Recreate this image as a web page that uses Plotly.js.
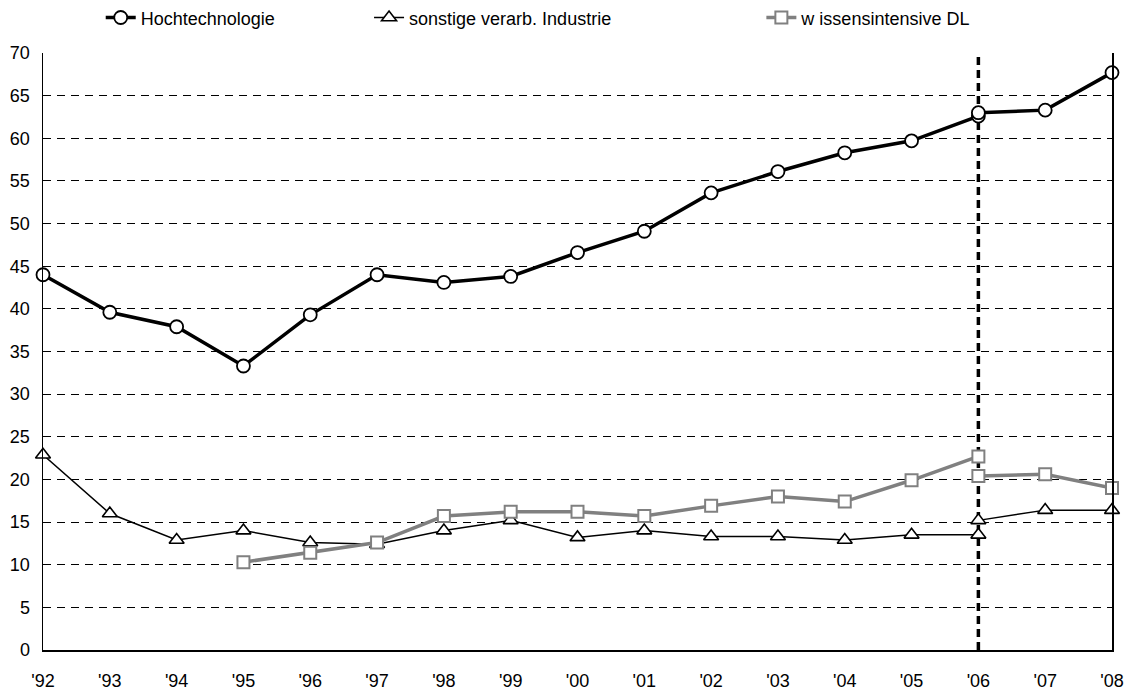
<!DOCTYPE html>
<html>
<head>
<meta charset="utf-8">
<script src="https://cdn.plot.ly/plotly-3.0.1.min.js"></script>
<style>html,body{margin:0;padding:0;background:#fff;}#chart{width:1133px;height:693px;}</style>
</head>
<body>
<div id="chart"></div>
<script>
// Years (x positions) and tick labels
const years = [1992,1993,1994,1995,1996,1997,1998,1999,2000,2001,2002,2003,2004,2005,2006,2007,2008];
const tickLabels = ["'92","'93","'94","'95","'96","'97","'98","'99","'00","'01","'02","'03","'04","'05","'06","'07","'08"];

// Series names
const nameHT = "Hochtechnologie";
const nameSV = "sonstige verarb. Industrie";
const nameWD = "w issensintensive DL";

// Old definition ('92 - '06)
const yearsOld = [1992,1993,1994,1995,1996,1997,1998,1999,2000,2001,2002,2003,2004,2005,2006];
const hochtechOld = [44.0,39.6,37.9,33.3,39.3,44.0,43.1,43.8,46.6,49.1,53.6,56.1,58.3,59.7,62.6];
const sonstigeOld = [22.9,16.0,12.9,14.0,12.6,12.4,14.0,15.2,13.2,14.0,13.3,13.3,12.9,13.5,13.5];
const yearsWissOld = [1995,1996,1997,1998,1999,2000,2001,2002,2003,2004,2005,2006];
const wissenOld = [10.3,11.4,12.6,15.7,16.2,16.2,15.7,16.9,18.0,17.4,19.9,22.7];

// New definition ('06 - '08)
const yearsNew = [2006,2007,2008];
const hochtechNew = [63.0,63.3,67.7];
const sonstigeNew = [15.2,16.4,16.4];
const wissenNew = [20.4,20.6,19.0];

// Break marker year
const breakYear = [2006];

const styleHT = {line:{color:'#000',width:3.5}, marker:{symbol:'circle',size:13,color:'#fff',line:{color:'#000',width:1.8}}};
const styleSV = {line:{color:'#000',width:1.5}, marker:{symbol:'triangle-up',size:13,color:'#fff',line:{color:'#000',width:1.6}}};
const styleWD = {line:{color:'#808080',width:3.5}, marker:{symbol:'square',size:12,color:'#fff',line:{color:'#808080',width:2}}};

function tr(x,y,name,style,legend,show){
  return {x:x,y:y,name:name,type:'scatter',mode:'lines+markers',cliponaxis:false,
    line:style.line,marker:style.marker,legend:legend,legendgroup:name,showlegend:show,hoverinfo:'x+y'};
}

const data = [
  tr(yearsOld,sonstigeOld,nameSV,styleSV,'legend2',true),
  tr(yearsNew,sonstigeNew,nameSV,styleSV,'legend2',false),
  tr(yearsWissOld,wissenOld,nameWD,styleWD,'legend3',true),
  tr(yearsNew,wissenNew,nameWD,styleWD,'legend3',false),
  tr(yearsOld,hochtechOld,nameHT,styleHT,'legend',true),
  tr(yearsNew,hochtechNew,nameHT,styleHT,'legend',false)
];

const font = {family:'"Liberation Sans", Arial, sans-serif', size:18, color:'#000'};
const legBase = {orientation:'h', yanchor:'middle', y:1.059, xanchor:'left', bgcolor:'rgba(0,0,0,0)', font:font, itemwidth:30, tracegroupgap:0};

const layout = {
  width:1133, height:693,
  margin:{l:43,r:21,t:53,b:43,autoexpand:false},
  paper_bgcolor:'#fff', plot_bgcolor:'#fff',
  font:font,
  showlegend:true,
  legend:Object.assign({}, legBase, {x:0.054}),
  legend2:Object.assign({}, legBase, {x:0.305}),
  legend3:Object.assign({}, legBase, {x:0.672}),
  xaxis:{
    range:[1992,2008], tickvals:years, ticktext:tickLabels,
    showgrid:false, zeroline:false, showline:true, linecolor:'#000', linewidth:1.5,
    ticks:'', ticklabelstandoff:14, tickfont:font, fixedrange:true
  },
  yaxis:{
    range:[0,70], dtick:5, tick0:0,
    showgrid:true, gridcolor:'#000', gridwidth:1, griddash:'8px,6px',
    zeroline:false, showline:true, linecolor:'#000', linewidth:1.5, mirror:true,
    ticks:'', ticklabelstandoff:8, tickfont:font, fixedrange:true
  },
  shapes:[
    {type:'line', xref:'x', yref:'y', x0:breakYear[0], x1:breakYear[0], y0:0, y1:70.4,
     line:{color:'#000', width:3.5, dash:'8px,5px'}, layer:'below'}
  ]
};

Plotly.newPlot('chart', data, layout, {displayModeBar:false, staticPlot:true});
</script>
</body>
</html>
